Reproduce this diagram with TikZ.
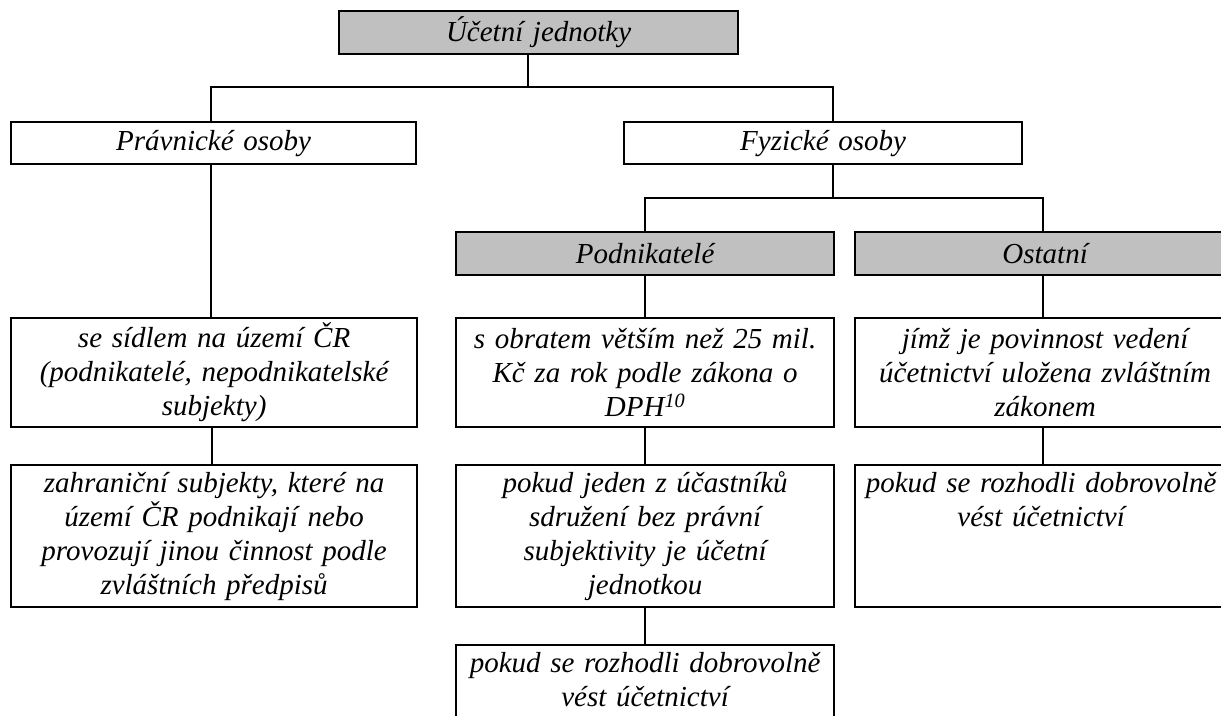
\documentclass[tikz,border=0pt]{standalone}
\usepackage{fontspec}
\setmainfont{Liberation Serif}
\definecolor{boxgray}{RGB}{192,192,192}

\begin{document}
\begin{tikzpicture}[x=1pt,y=-1pt,
  font=\fontsize{29}{34}\selectfont\itshape,
  ubox/.style={draw, line width=2.2pt, inner sep=0pt, anchor=north west, align=center},
  graybox/.style={ubox, fill=boxgray},
  utext/.style={inner sep=0pt, align=center, anchor=north},
  conn/.style={line width=2.2pt}]

  \useasboundingbox (0,0) rectangle (1221,715);
  \clip (0,0) rectangle (1221,715);

  % top level
  \node[graybox, minimum width=399pt, minimum height=43pt, text width=390pt] (ucet) at (338,10) {Účetní jednotky};

  \node[ubox, minimum width=405pt, minimum height=42pt, text width=395pt] (prav) at (10,121) {Právnické osoby};
  \node[ubox, minimum width=398pt, minimum height=42pt, text width=390pt] (fyz) at (623,121) {Fyzické osoby};

  \node[graybox, minimum width=378pt, minimum height=43pt, text width=370pt] (podn) at (455,231) {Podnikatelé};
  \node[graybox, minimum width=380pt, minimum height=43pt, text width=370pt] (ostat) at (854,231) {Ostatní};

  % second row of boxes
  \node[ubox, minimum width=406pt, minimum height=109pt, text width=398pt] (sidl) at (10,317) {se sídlem na území ČR\\(podnikatelé, nepodnikatelské\\subjekty)};
  \node[ubox, minimum width=378pt, minimum height=109pt, text width=370pt] (obrat) at (455,317) {s obratem větším než 25 mil.\\Kč za rok podle zákona o\\DPH\textsuperscript{10}};
  \node[ubox, minimum width=380pt, minimum height=109pt, text width=370pt] (jimz) at (854,317) {jímž je povinnost vedení\\účetnictví uložena zvláštním\\zákonem};

  % third row
  \node[ubox, minimum width=406pt, minimum height=142pt, text width=398pt] (zahr) at (10,464) {zahraniční subjekty, které na\\území ČR podnikají nebo\\provozují jinou činnost podle\\zvláštních předpisů};
  \node[ubox, minimum width=378pt, minimum height=142pt, text width=370pt] (jeden) at (455,464) {pokud jeden z účastníků\\sdružení bez právní\\subjektivity je účetní\\jednotkou};
  \node[ubox, minimum width=380pt, minimum height=142pt] (rozh) at (854,464) {};
  \node[utext, text width=360pt] (rozhT) at ([xshift=-4pt,yshift=-8pt]rozh.north) {pokud se rozhodli dobrovolně\\vést účetnictví};

  \node[ubox, minimum width=378pt, minimum height=120pt] (posl) at (455,644) {};
  \node[utext, text width=370pt] (poslT) at ([yshift=-8pt]posl.north) {pokud se rozhodli dobrovolně\\vést účetnictví};

  % connectors
  \coordinate (ucetJ) at (528,87);
  \coordinate (fyzJ) at (833,198);
  \draw[conn] (ucetJ |- ucet.south) -- (ucetJ);
  \draw[conn] ([xshift=-2.5pt]prav.north) |- (ucetJ) -| (fyzJ |- fyz.north);
  \draw[conn] ([xshift=-2.5pt]prav.south) -- ([xshift=-2.5pt]prav.south |- sidl.north);
  \draw[conn] ([xshift=-2.5pt]sidl.south) -- ([xshift=-2.5pt]sidl.south |- zahr.north);

  \draw[conn] (fyzJ |- fyz.south) -- (fyzJ);
  \draw[conn] (podn.north) |- (fyzJ) -| ([xshift=-2pt]ostat.north);
  \draw[conn] (podn.south) -- (obrat.north);
  \draw[conn] (obrat.south) -- (jeden.north);
  \draw[conn] (jeden.south) -- (posl.north);
  \draw[conn] ([xshift=-2pt]ostat.south) -- ([xshift=-2pt]jimz.north);
  \draw[conn] ([xshift=-2pt]jimz.south) -- ([xshift=-2pt]rozh.north);
\end{tikzpicture}
\end{document}
